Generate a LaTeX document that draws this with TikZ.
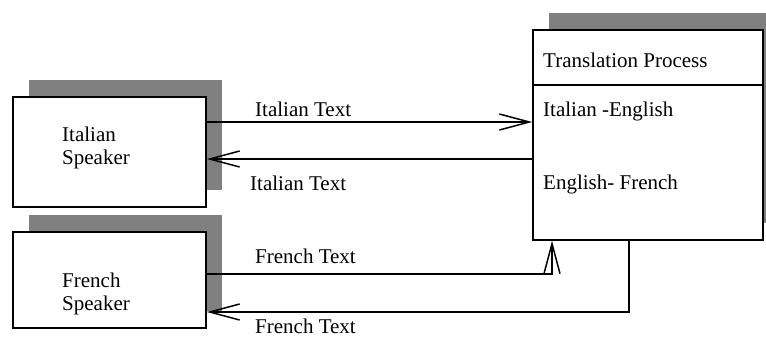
\documentclass[tikz,border=0pt]{standalone}
\usepackage{fontspec}
\setmainfont{Liberation Serif}
\usetikzlibrary{arrows.meta,shadows}
\tikzset{
  box/.style={draw, line width=1.5pt, fill=white, inner sep=0pt,
    general shadow={shadow xshift=16pt, shadow yshift=17pt, fill=shadowgray}},
  lbl/.style={anchor=base west, inner sep=0pt, font=\fontsize{21}{24}\selectfont},
  flow/.style={line width=1.5pt, -{Straight Barb[length=30pt, width=16pt, line width=1.5pt]}},
}
\definecolor{shadowgray}{HTML}{808080}
\begin{document}
\begin{tikzpicture}[x=1pt, y=-1pt]
  \useasboundingbox (0,0) rectangle (766,338);

  % boxes
  \node[box, minimum width=193pt, minimum height=110pt] (italian) at (109.5,152) {};
  \node[box, minimum width=193pt, minimum height=96pt] (french) at (109.5,280) {};
  \node[box, minimum width=230pt, minimum height=210pt] (trans) at (648,135) {};
  \draw[line width=1.5pt] (trans.west |- 0,85) -- (trans.east |- 0,85);

  % box texts
  \node[lbl] (itname) at (62,141) {Italian};
  \node[lbl] (itspk) at (62,164) {Speaker};
  \node[lbl] (frname) at (62,287) {French};
  \node[lbl] (frspk) at (62,310) {Speaker};
  \node[lbl] (title) at (543,67) {Translation Process};
  \node[lbl] (ite) at (543,116) {Italian -English};
  \node[lbl] (ef) at (543,189) {English- French};

  % connectors
  \draw[flow] (italian.east |- 0,122) -- (trans.west |- 0,122);
  \draw[flow] (trans.west |- 0,159) -- (italian.east |- 0,159);
  \draw[flow] (french.east |- 0,274) -| (trans.south -| 552,0);
  \draw[flow] (trans.south -| 629,0) |- (french.east |- 0,312);

  % connector labels
  \node[lbl] (l1) at (255,116) {Italian Text};
  \node[lbl] (l2) at (250,190) {Italian Text};
  \node[lbl] (l3) at (255,263) {French Text};
  \node[lbl] (l4) at (255,333) {French Text};
\end{tikzpicture}
\end{document}
